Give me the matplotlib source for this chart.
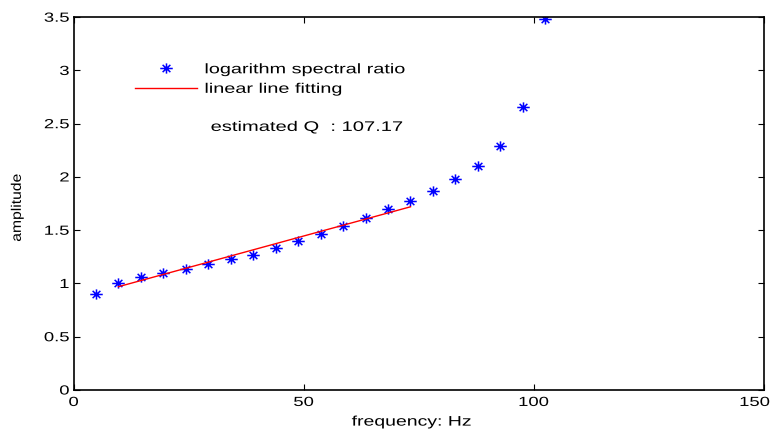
import matplotlib
matplotlib.use("Agg")
import matplotlib.pyplot as plt
from matplotlib.patheffects import AbstractPathEffect
from matplotlib.transforms import Affine2D
from matplotlib.path import Path

freq = [4.88, 9.77, 14.65, 19.53, 24.41, 29.30, 34.18, 39.06, 43.95, 48.83, 53.71,
        58.59, 63.48, 68.36, 73.24, 78.13, 83.01, 87.89, 92.77, 97.66, 102.54]
amp = [0.90, 1.00, 1.063, 1.094, 1.14, 1.18, 1.227, 1.27, 1.334, 1.396, 1.466, 1.54,
       1.613, 1.695, 1.777, 1.868, 1.978, 2.10, 2.29, 2.66, 3.48]
fit_x = [9.77, 73.24]
fit_y = [0.97, 1.72]
xticks = [0, 50, 100, 150]
yticks = [0, 0.5, 1, 1.5, 2, 2.5, 3, 3.5]
ytick_labels = ['0', '0.5', '1', '1.5', '2', '2.5', '3', '3.5']
q_text = "estimated Q  : 107.17"


class Stretch(AbstractPathEffect):
    """Stretch glyphs horizontally (along the text direction) around an anchor."""
    def __init__(self, sx, anchor=0.0, dx=0.0):
        super().__init__()
        self.sx = sx
        self.anchor = anchor
        self.dx = dx

    def draw_path(self, renderer, gc, tpath, affine, rgbFace=None):
        v = tpath.vertices
        if len(v):
            x0, x1 = v[:, 0].min(), v[:, 0].max()
        else:
            x0 = x1 = 0.0
        a = x0 + self.anchor * (x1 - x0)
        pre = Affine2D().translate(-a, 0).scale(self.sx, 1).translate(a, 0)
        post = Affine2D().translate(self.dx, 0)
        renderer.draw_path(gc, tpath, pre + affine + post, rgbFace)


# MATLAB-like asterisk marker (horizontal arm slightly longer)
star = Path([(-1.0, 0), (1.0, 0), (0, -0.82), (0, 0.82),
             (-0.62, -0.58), (0.62, 0.58), (-0.62, 0.58), (0.62, -0.58)],
            [Path.MOVETO, Path.LINETO] * 4)

plt.rcParams['font.family'] = ['Liberation Sans', 'DejaVu Sans']
fig = plt.figure(figsize=(7.74, 4.29), dpi=100)
ax = fig.add_axes([0.0950, 0.0909, 0.8915, 0.869])

ax.plot(freq, amp, linestyle='none', marker=star, color='blue', markersize=9,
        markeredgewidth=1.1, label='logarithm spectral ratio')
ax.plot(fit_x, fit_y, color='red', linewidth=1.0, label='linear line fitting')
qt = ax.text(29.8, 2.47, q_text, fontsize=10, va='center', ha='left')
qt.set_path_effects([Stretch(1.45, 0.0)])

ax.set_xlim(0, 150)
ax.set_ylim(0, 3.5)
ax.set_xticks(xticks)
ax.set_yticks(yticks)
ax.set_yticklabels(ytick_labels)
ax.tick_params(direction='in', top=True, right=True, labelsize=9.5, length=4)
ax.tick_params(axis='x', pad=5)
ax.tick_params(axis='y', pad=3)
for s in ax.spines.values():
    s.set_linewidth(1.2)

xt = ax.xaxis.get_major_ticks()
for i, t in enumerate(xt):
    t.label1.set_path_effects([Stretch(1.4, 0.5, dx=(-9.0 if i == len(xt) - 1 else 0.0))])
for t in ax.yaxis.get_major_ticks():
    t.label1.set_path_effects([Stretch(1.4, 1.0)])

xl = ax.set_xlabel('frequency: Hz', fontsize=10)
xl.set_path_effects([Stretch(1.4, 0.5)])
ax.xaxis.set_label_coords(0.49, -0.066)
yl = ax.set_ylabel('amplitude', fontsize=10)
yl.set_path_effects([Stretch(1.13, 0.5)])
ax.yaxis.set_label_coords(-0.072, 0.489)

leg = ax.legend(loc='upper left', bbox_to_anchor=(0.081, 0.894), frameon=False, fontsize=10,
                handlelength=4.5, handletextpad=0.5, labelspacing=0.4, borderaxespad=0)
for t in leg.get_texts():
    t.set_path_effects([Stretch(1.43, 0.0)])

fig.savefig('out.png', dpi=100)
